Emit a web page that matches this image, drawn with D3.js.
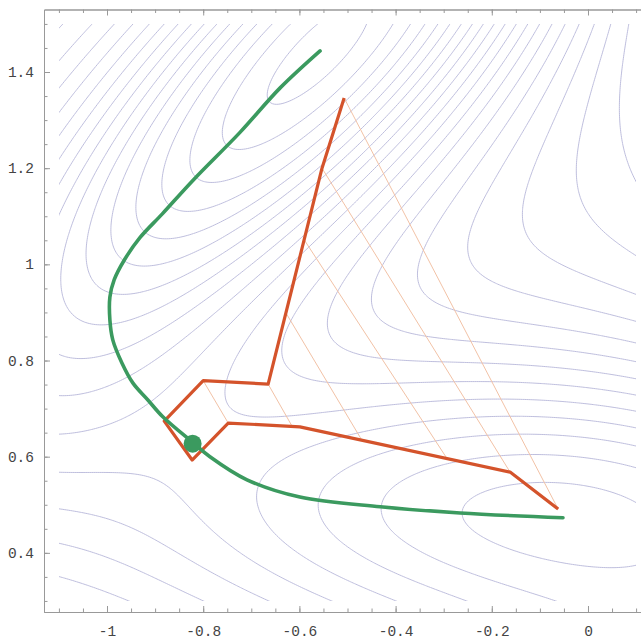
<!DOCTYPE html>
<html>
<head>
<meta charset="utf-8">
<script src="https://cdn.jsdelivr.net/npm/d3@7"></script>
<style>
  body { margin: 0; background: #fff; }
  svg { display: block; }
  .tick text { font-family: "Liberation Mono", "DejaVu Sans Mono", monospace; font-size: 14.5px; fill: #444; }
  .axis path, .axis line { stroke: #999; }
</style>
</head>
<body>
<div id="chart"></div>
<script>
// Muller-Brown surface parameters (the contour field)
var mbA = [-200, -100, -170, 15];
var mba = [-1, -1, -6.5, 0.7];
var mbb = [0, 0, 11, 0.6];
var mbc = [-10, -10, -6.5, 0.7];
var mbX0 = [1, 0, -0.5, -1];
var mbY0 = [0, 0.5, 1.5, 1];

// contour levels
var levels = [-142.5, -133, -123.5, -114, -104.5, -95, -85.5, -76, -66.5, -57,
  -47.5, -38, -28.5, -19, -9.5, 0, 9.5, 19, 28.5, 38];

// minimum energy path (green)
var mepX = [-0.557, -0.640, -0.723, -0.821, -0.885, -0.932, -0.964, -0.985, -0.994, -0.994,
  -0.988, -0.969, -0.946, -0.915, -0.884, -0.821, -0.786, -0.709, -0.599, -0.432, -0.266, -0.052];
var mepY = [1.444, 1.367, 1.275, 1.175, 1.105, 1.055, 1.009, 0.968, 0.932, 0.884,
  0.843, 0.795, 0.753, 0.718, 0.683, 0.629, 0.600, 0.552, 0.516, 0.496, 0.483, 0.473];

// saddle point
var saddle = [-0.822, 0.627];

// string path (red)
var pathX = [-0.507, -0.553, -0.665, -0.800, -0.881, -0.823, -0.748, -0.599, -0.162, -0.062];
var pathY = [1.346, 1.200, 0.751, 0.758, 0.674, 0.593, 0.670, 0.662, 0.568, 0.491];

// thin links between the two branches
var linkFromX = [-0.507, -0.553, -0.590, -0.628, -0.665, -0.800];
var linkFromY = [1.346, 1.200, 1.051, 0.899, 0.751, 0.758];
var linkToX = [-0.062, -0.162, -0.293, -0.470, -0.615, -0.748];
var linkToY = [0.491, 0.568, 0.596, 0.634, 0.663, 0.670];

var xMajor = [-1, -0.8, -0.6, -0.4, -0.2, 0];
var yMajor = [0.4, 0.6, 0.8, 1, 1.2, 1.4];

var W = 641, H = 639;
var x = d3.scaleLinear().domain([-1.131, 0.131]).range([44, 651]);
var y = d3.scaleLinear().domain([0.277, 1.530]).range([612, 9.5]);

function pot(px, py) {
  var v = 0;
  for (var k = 0; k < 4; k++) {
    var dx = px - mbX0[k], dy = py - mbY0[k];
    v += mbA[k] * Math.exp(mba[k] * dx * dx + mbb[k] * dx * dy + mbc[k] * dy * dy);
  }
  return v;
}

var svg = d3.select("#chart").append("svg").attr("width", W).attr("height", H);

svg.append("defs").append("clipPath").attr("id", "clip")
  .append("rect")
  .attr("x", x(-1.1)).attr("y", y(1.5))
  .attr("width", x(0.1) - x(-1.1)).attr("height", y(0.3) - y(1.5));

// grid a bit larger than the shown area so ring edges fall outside the clip
var gx0 = -1.2, gx1 = 0.2, gy0 = 0.2, gy1 = 1.6, step = 0.004;
var nx = Math.round((gx1 - gx0) / step) + 1, ny = Math.round((gy1 - gy0) / step) + 1;
var grid = new Array(nx * ny);
for (var j = 0; j < ny; j++) {
  for (var i = 0; i < nx; i++) {
    grid[j * nx + i] = pot(gx0 + i * step, gy0 + j * step);
  }
}
var contours = d3.contours().size([nx, ny]).thresholds(levels)(grid);

var proj = d3.geoTransform({
  point: function (gx, gy) {
    this.stream.point(x(gx0 + (gx - 0.5) * step), y(gy0 + (gy - 0.5) * step));
  }
});
var geoPath = d3.geoPath(proj);

svg.append("g").attr("clip-path", "url(#clip)")
  .selectAll("path").data(contours).enter().append("path")
  .attr("d", geoPath)
  .attr("fill", "none")
  .attr("stroke", "#b7b7d9")
  .attr("stroke-width", 0.9);

// thin links
svg.append("g").selectAll("line").data(linkFromX).enter().append("line")
  .attr("x1", function (d, i) { return x(linkFromX[i]); })
  .attr("y1", function (d, i) { return y(linkFromY[i]); })
  .attr("x2", function (d, i) { return x(linkToX[i]); })
  .attr("y2", function (d, i) { return y(linkToY[i]); })
  .attr("stroke", "#f2c2a6")
  .attr("stroke-width", 1);

var line = d3.line().x(function (d) { return x(d[0]); }).y(function (d) { return y(d[1]); });

svg.append("path")
  .datum(pathX.map(function (d, i) { return [d, pathY[i]]; }))
  .attr("d", line)
  .attr("fill", "none")
  .attr("stroke", "#d4532b")
  .attr("stroke-width", 3.2)
  .attr("stroke-linejoin", "round");

svg.append("path")
  .datum(mepX.map(function (d, i) { return [d, mepY[i]]; }))
  .attr("d", line.curve(d3.curveCatmullRom))
  .attr("fill", "none")
  .attr("stroke", "#3b9a5f")
  .attr("stroke-width", 3.6)
  .attr("stroke-linecap", "round");

svg.append("circle")
  .attr("cx", x(saddle[0])).attr("cy", y(saddle[1]))
  .attr("r", 9).attr("fill", "#3b9a5f");

// frame with inward ticks
var xMinor = d3.range(-22, 3).map(function (k) { return k * 0.05; });
var yMinor = d3.range(6, 31).map(function (k) { return k * 0.05; });
var fmt = function (d) { return String(d); };

function addAxis(axis, tx, ty) {
  var g = svg.append("g").attr("class", "axis").attr("transform", "translate(" + tx + "," + ty + ")").call(axis);
  return g;
}

addAxis(d3.axisBottom(x).tickValues(xMinor).tickFormat("").tickSize(-3.5).tickSizeOuter(0), 0, 612);
addAxis(d3.axisBottom(x).tickValues(xMajor).tickFormat(fmt).tickSize(-6).tickSizeOuter(0).tickPadding(14), 0, 612);
addAxis(d3.axisTop(x).tickValues(xMinor).tickFormat("").tickSize(-3.5).tickSizeOuter(0), 0, 9.5);
addAxis(d3.axisTop(x).tickValues(xMajor).tickFormat("").tickSize(-6).tickSizeOuter(0), 0, 9.5);
addAxis(d3.axisLeft(y).tickValues(yMinor).tickFormat("").tickSize(-3.5).tickSizeOuter(0), 44, 0);
addAxis(d3.axisLeft(y).tickValues(yMajor).tickFormat(fmt).tickSize(-6).tickSizeOuter(0).tickPadding(10), 44, 0);
</script>
</body>
</html>
